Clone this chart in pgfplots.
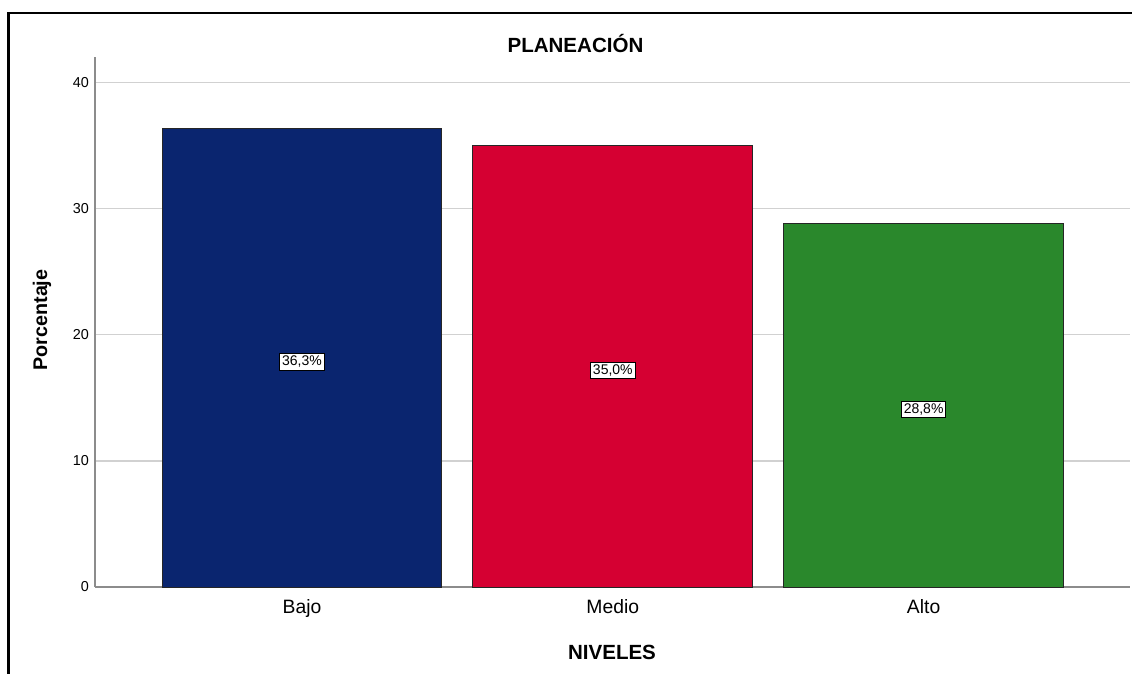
\documentclass[border=0pt]{standalone}
\usepackage{fontspec}
\setmainfont{Liberation Sans}
\usepackage{pgfplots}
\pgfplotsset{compat=1.18}
\usepackage{pgfplotstable}
\definecolor{cbajo}{HTML}{0A256F}
\definecolor{cmedio}{HTML}{D50032}
\definecolor{calto}{HTML}{2A882C}
\pgfplotstableread{
x v
1 36.3
2 35.0
3 28.8
}\datos
\begin{document}
\begin{tikzpicture}
\useasboundingbox (0,0) rectangle (849pt,-505.5pt);
\draw[line width=1.6pt] (6.4pt,-506pt) -- (6.4pt,-9.75pt) -- (850pt,-9.75pt);
\begin{axis}[
  at={(71.25pt,-440.25pt)}, anchor=south west,
  scale only axis, width=776.25pt, height=397.5pt,
  xmin=0.334, xmax=3.664, ymin=0, ymax=42,
  axis x line*=bottom, axis y line*=left,
  x axis line style={-}, y axis line style={-},
  axis line style={draw=black!45, line width=1.1pt},
  xtick={1,2,3}, xticklabels={Bajo,Medio,Alto},
  ytick={0,10,20,30,40},
  ymajorgrids, grid style={draw=black!18, line width=1.1pt},
  major tick length=0pt,
  /pgf/number format/assume math mode=true,
  yticklabel style={font=\fontsize{10.8}{12}\selectfont, xshift=-1pt},
  xticklabel style={font=\fontsize{14.5}{16}\selectfont, yshift=-6pt},
  clip=false,
]
\addplot[ybar, bar width=0.9, fill=cbajo, draw=black!85, line width=0.75pt] coordinates {(1,36.3)};
\addplot[ybar, bar width=0.9, fill=cmedio, draw=black!85, line width=0.75pt] coordinates {(2,35.0)};
\addplot[ybar, bar width=0.9, fill=calto, draw=black!85, line width=0.75pt] coordinates {(3,28.8)};
\addplot[only marks, mark=none, point meta=\thisrow{v},
  nodes near coords={\pgfmathprintnumber[fixed,fixed zerofill,precision=1,use comma]{\pgfplotspointmeta}\%},
  every node near coord/.append style={anchor=center, yshift=-3pt, fill=white, draw=black, line width=0.6pt,
    inner sep=1.8pt, font=\fontsize{10.5}{12}\selectfont}]
  table[x=x, y expr=\thisrow{v}/2] {\datos};
\end{axis}
\node[font=\bfseries\fontsize{15.4}{17}\selectfont] at (431.6pt,-33pt) {PLANEACIÓN};
\node[font=\bfseries\fontsize{15.4}{17}\selectfont] at (459pt,-489pt) {NIVELES};
\node[font=\bfseries\fontsize{14.8}{17}\selectfont, rotate=90] at (31.5pt,-240pt) {Porcentaje};
\end{tikzpicture}
\end{document}
